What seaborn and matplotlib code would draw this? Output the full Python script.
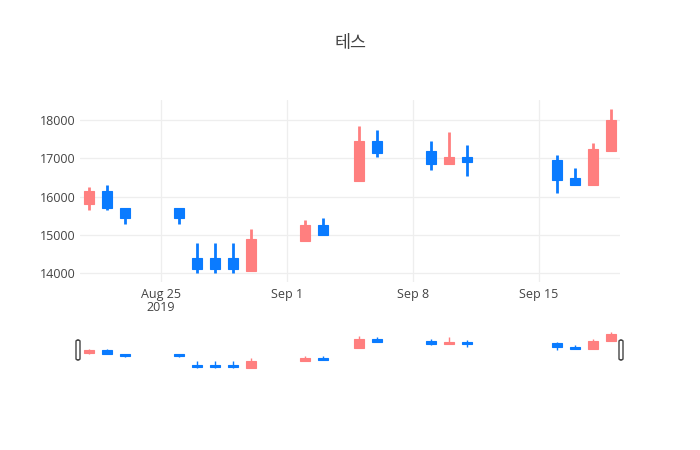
import numpy as np
import pandas as pd
import matplotlib
matplotlib.use("Agg")
import matplotlib.pyplot as plt
import matplotlib.dates as mdates
from matplotlib.patches import FancyBboxPatch
import seaborn as sns

# 일별 시세
dates = ["2019-08-21", "2019-08-22", "2019-08-23", "2019-08-26", "2019-08-27",
         "2019-08-28", "2019-08-29", "2019-08-30", "2019-09-02", "2019-09-03",
         "2019-09-05", "2019-09-06", "2019-09-09", "2019-09-10", "2019-09-11",
         "2019-09-16", "2019-09-17", "2019-09-18", "2019-09-19"]
opens = [15800, 16150, 15700, 15700, 14400, 14400, 14400, 14050, 14850, 15250,
         16400, 17450, 17200, 16850, 17050, 16950, 16500, 16300, 17200]
highs = [16250, 16300, 15700, 15700, 14800, 14800, 14800, 15150, 15400, 15450,
         17850, 17750, 17450, 17700, 17350, 17100, 16750, 17400, 18300]
lows = [15650, 15650, 15300, 15300, 14000, 14000, 14000, 14050, 14850, 15000,
        16400, 17050, 16700, 16850, 16550, 16100, 16300, 16300, 17200]
closes = [16150, 15700, 15450, 15450, 14100, 14100, 14100, 14900, 15250, 15000,
          17450, 17150, 16850, 17050, 16900, 16450, 16300, 17250, 18000]

title = "테스"
x_ticks = ["2019-08-25", "2019-09-01", "2019-09-08", "2019-09-15"]
y_ticks = [14000, 15000, 16000, 17000, 18000]

UP = "#ff7f7f"
DOWN = "#0a7bff"

df = pd.DataFrame({"date": pd.to_datetime(dates), "open": opens, "high": highs,
                   "low": lows, "close": closes})
df["x"] = mdates.date2num(df["date"])
df["color"] = np.where(df["close"] >= df["open"], UP, DOWN)

sns.set_theme(style="white")
plt.rcParams["font.family"] = ["Open Sans", "Noto Sans CJK KR", "DejaVu Sans"]

fig = plt.figure(figsize=(7, 4.5), dpi=100)
ax = fig.add_axes([80 / 700, 1 - 282 / 450, 540 / 700, 182 / 450])
ax_rs = fig.add_axes([80 / 700, 1 - 370 / 450, 540 / 700, 40 / 450])


def draw_candles(a, body_w, wick_lw):
    a.vlines(df["x"], df["low"], df["high"], colors=df["color"], lw=wick_lw, zorder=2)
    bottom = np.minimum(df["open"], df["close"])
    height = np.abs(df["close"] - df["open"])
    a.bar(df["x"], height, bottom=bottom, width=body_w, color=df["color"],
          edgecolor=df["color"], linewidth=0.8, zorder=3)


xmin = df["x"].min() - 0.5
xmax = df["x"].max() + 0.5
span = max(highs) - min(lows)
ylo, yhi = min(lows) - span * 0.053, max(highs) + span * 0.053

draw_candles(ax, 0.58, 2.0)
ax.set_xlim(xmin, xmax)
ax.set_ylim(ylo, yhi)
tick_x = mdates.date2num(pd.to_datetime(x_ticks))
ax.set_xticks(tick_x)
labels = []
for i, d in enumerate(pd.to_datetime(x_ticks)):
    lab = d.strftime("%b ") + str(d.day)
    if i == 0:
        lab += "\n" + str(d.year)
    labels.append(lab)
ax.set_xticklabels(labels, linespacing=1.05)
ax.set_yticks(y_ticks)
ax.set_yticklabels([str(v) for v in y_ticks])
ax.grid(True, color="#eeeeee", lw=0.9)
ax.set_axisbelow(True)
for s in ax.spines.values():
    s.set_visible(False)
ax.tick_params(axis="both", length=0, labelsize=9, colors="#444444")
ax.tick_params(axis="x", pad=4)
ax.tick_params(axis="y", pad=3)

draw_candles(ax_rs, 0.58, 1.0)
ax_rs.set_xlim(xmin, xmax)
ax_rs.set_ylim(ylo, yhi)
ax_rs.set_xticks([])
ax_rs.set_yticks([])
for s in ax_rs.spines.values():
    s.set_visible(False)

# range slider grips
for px in (78, 621):
    grip = FancyBboxPatch(((px - 2) / 700, 1 - 360 / 450), 4 / 700, 20 / 450,
                          boxstyle="round,pad=0,rounding_size=0.003",
                          transform=fig.transFigure, facecolor="white",
                          edgecolor="#444444", lw=1, zorder=5)
    fig.patches.append(grip)

fig.text(350 / 700, 1 - 43 / 450, title, ha="center", va="center",
         fontsize=12.5, color="#444444",
         family=["Noto Sans CJK KR", "DejaVu Sans"])

fig.savefig("out.png", dpi=100, facecolor="white")
